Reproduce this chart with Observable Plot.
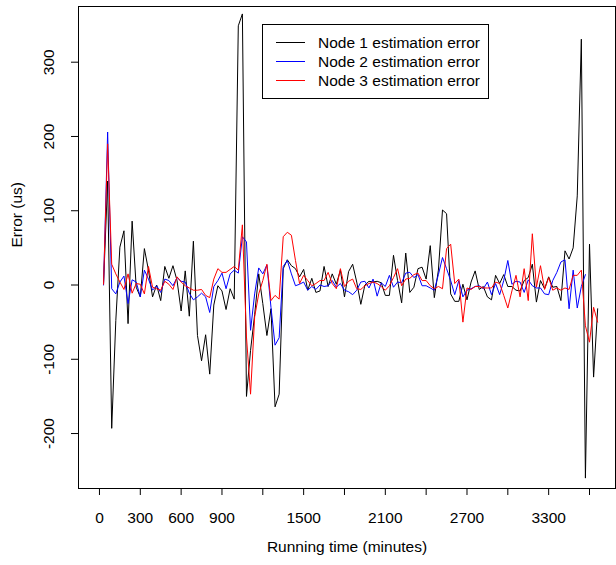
<!DOCTYPE html>
<html>
<head>
<meta charset="utf-8">
<script src="https://cdn.jsdelivr.net/npm/d3@7"></script>
<script src="https://cdn.jsdelivr.net/npm/@observablehq/plot@0.6"></script>
<style>
  html, body { margin: 0; padding: 0; background: white; }
  #chart { width: 616px; height: 565px; }
</style>
</head>
<body>
<div id="chart"></div>
<script>
const minutes = [30,60,90,120,150,180,210,240,270,300,330,360,390,420,450,480,510,540,570,600,630,660,690,720,750,780,810,840,870,900,930,960,990,1020,1050,1080,1110,1140,1170,1200,1230,1260,1290,1320,1350,1380,1410,1440,1470,1500,1530,1560,1590,1620,1650,1680,1710,1740,1770,1800,1830,1860,1890,1920,1950,1980,2010,2040,2070,2100,2130,2160,2190,2220,2250,2280,2310,2340,2370,2400,2430,2460,2490,2520,2550,2580,2610,2640,2670,2700,2730,2760,2790,2820,2850,2880,2910,2940,2970,3000,3030,3060,3090,3120,3150,3180,3210,3240,3270,3300,3330,3360,3390,3420,3450,3480,3510,3540,3570,3600,3630,3660];

const node1 = [2,140,-193,-48,51,73,-52,86,-3,-16,49,20,-16,0,-21,25,9,26,6,-35,19,-42,59,-68,-102,-67,-120,-27,-1,-8,-33,-5,-19,349,365,-150,-88,-40,15,-25,-68,-32,-164,-147,22,34,26,22,11,21,-7,9,-10,-8,25,-2,15,1,20,-16,18,28,4,-26,0,5,4,5,3,-14,-14,40,6,-24,43,-10,-3,22,24,8,53,-17,20,101,96,-12,-22,-22,1,-20,4,19,-6,-2,-16,-20,13,2,14,-2,-2,-7,-8,6,10,28,-23,6,-5,11,-3,-2,-21,46,35,50,120,331,-260,55,-124,-32];

const node2 = [0,206,-5,-12,4,12,-25,7,4,-16,20,8,-7,-1,-10,8,6,-1,10,5,4,-11,-20,-16,-11,-16,-37,-2,6,16,-5,15,20,16,65,58,-61,-12,23,15,27,-30,-81,-71,25,33,15,-1,1,4,-7,-2,-6,0,-2,-1,6,-3,2,-7,-9,-13,-7,4,5,-4,8,-15,3,-2,13,-3,4,3,16,17,10,14,-1,-1,-4,-7,14,37,22,6,-13,6,-16,-7,-5,-2,-1,-5,4,-13,2,-13,6,33,1,5,4,-10,7,-1,-4,-4,-12,-13,6,17,31,34,-32,20,-31,-2,14];

const node3 = [1,190,28,15,4,-6,15,-11,2,1,-12,25,-3,-5,-7,5,1,-6,11,4,-1,-4,-7,-7,-6,-14,-17,8,22,17,17,21,25,20,81,-70,-147,-43,-12,6,28,-21,-14,-19,65,71,67,33,2,13,6,-1,2,6,6,17,2,-5,22,-2,5,8,-5,-6,-1,2,4,2,-2,-7,-1,10,22,-1,8,9,14,16,6,6,-1,-5,-2,-5,49,55,2,8,-50,-4,-6,-2,-2,-4,-4,-4,4,2,-14,-31,-8,13,-16,22,-21,69,-3,26,-6,10,-7,-4,-7,-4,-6,13,13,20,-55,-77,-30,-50];

const seriesNames = ["Node 1 estimation error", "Node 2 estimation error", "Node 3 estimation error"];
const seriesColors = ["#000000", "#0000ff", "#ff0000"];

const xTicks = [0,300,600,900,1200,1500,1800,2100,2400,2700,3000,3300,3600];
const xTickLabels = [0,300,600,900,1500,2100,2700,3300];
const yTicks = [-200,-100,0,100,200,300];

const xTitle = "Running time (minutes)";
const yTitle = "Error (us)";

const seriesValues = [node1, node2, node3];
const rows = seriesValues.map((vals, s) =>
  vals.map((v, i) => ({t: minutes[i], err: v, series: seriesNames[s]})));

const font = "'Liberation Sans', Arial, Helvetica, sans-serif";
const fs = 15.5;

const chart = Plot.plot({
  width: 616,
  height: 565,
  marginLeft: 78,
  marginRight: 1,
  marginTop: 6,
  marginBottom: 77,
  style: {fontFamily: font, fontSize: fs + "px", background: "white", color: "black", overflow: "visible"},
  x: {domain: [-154, 3791]},
  y: {domain: [-274, 375]},
  marks: [
    Plot.axisX({ticks: xTicks, tickSize: 7, tickPadding: 16, fontSize: fs,
      tickFormat: d => xTickLabels.includes(d) ? String(d) : "", label: null}),
    Plot.axisY({ticks: yTicks, tickSize: 7, tickPadding: 18, tickRotate: -90, fontSize: fs,
      tickFormat: d => String(d), label: null}),
    ...rows.map((r, s) => Plot.line(r, {x: "t", y: "err", stroke: seriesColors[s], strokeWidth: 1})),
    Plot.frame({stroke: "black", strokeWidth: 1}),
    Plot.text([xTitle], {frameAnchor: "bottom", dy: 63, fontSize: fs, fill: "black"}),
    Plot.text([yTitle], {frameAnchor: "left", dx: -61, rotate: -90, fontSize: fs, fill: "black"})
  ]
});

// legend inside the plotting area (as in the original R legend)
const svg = d3.select(chart);
const lg = svg.append("g").attr("font-family", font).attr("font-size", fs).attr("text-anchor", "start");
lg.append("rect").attr("x", 262.5).attr("y", 24.5).attr("width", 226).attr("height", 74)
  .attr("fill", "white").attr("stroke", "black");
seriesNames.forEach((name, k) => {
  const yy = 42.5 + k * 19;
  lg.append("line").attr("x1", 276).attr("x2", 305).attr("y1", yy).attr("y2", yy)
    .attr("stroke", seriesColors[k]).attr("stroke-width", 1);
  lg.append("text").attr("x", 318).attr("y", yy).attr("dy", "0.35em")
    .attr("text-anchor", "start").attr("fill", "black").text(name);
});

document.getElementById("chart").appendChild(chart);
</script>
</body>
</html>
